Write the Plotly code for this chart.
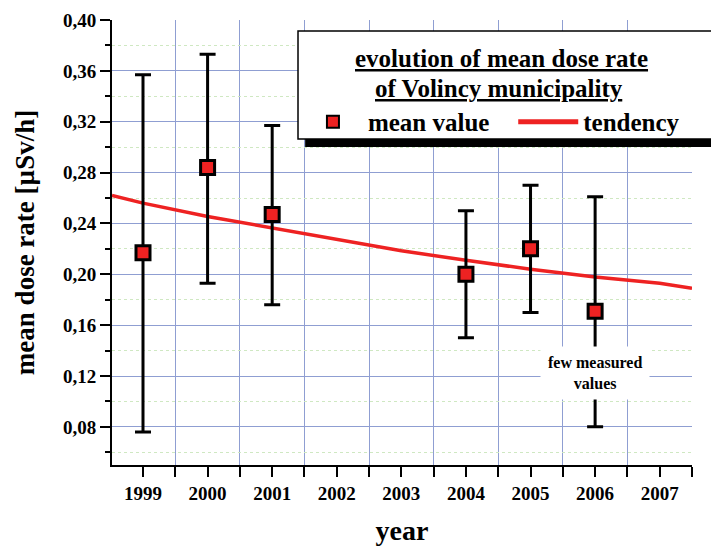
import plotly.graph_objects as go

# ---------------- data ----------------
years = [1999, 2000, 2001, 2004, 2005, 2006]
mean_rate = [0.217, 0.284, 0.247, 0.200, 0.220, 0.171]
upper_rate = [0.357, 0.373, 0.317, 0.250, 0.270, 0.261]
lower_rate = [0.076, 0.193, 0.176, 0.150, 0.170, 0.080]

trend_x = [1998.52, 1999, 2000, 2001, 2002, 2003, 2004, 2005, 2006, 2007, 2007.5]
trend_y = [0.262, 0.256, 0.2455, 0.2365, 0.2272, 0.2185, 0.2110, 0.2040, 0.1978, 0.1930, 0.1890]

x_tickvals = [1999, 2000, 2001, 2002, 2003, 2004, 2005, 2006, 2007]
x_ticktext = ["1999", "2000", "2001", "2002", "2003", "2004", "2005", "2006", "2007"]
x_minor = [1999.5, 2000.5, 2001.5, 2002.5, 2003.5, 2004.5, 2005.5, 2006.5, 2007.5]

y_tickvals = [0.08, 0.12, 0.16, 0.20, 0.24, 0.28, 0.32, 0.36, 0.40]
y_ticktext = ["0,08", "0,12", "0,16", "0,20", "0,24", "0,28", "0,32", "0,36", "0,40"]
y_minor = [0.06, 0.10, 0.14, 0.18, 0.22, 0.26, 0.30, 0.34, 0.38]

# ---------------- style ----------------
FONT = "Liberation Serif, Times New Roman, serif"
RED = "#ee2222"
GRID = "#8f9ed2"
MINOR_GRID = "#cfe8c2"
NBSP = "\u00a0"

err_plus = [u - m for u, m in zip(upper_rate, mean_rate)]
err_minus = [m - l for m, l in zip(mean_rate, lower_rate)]

fig = go.Figure()

fig.add_trace(go.Scatter(
    x=trend_x, y=trend_y, mode="lines", name="tendency",
    line=dict(color=RED, width=3.5),
))

fig.add_trace(go.Scatter(
    x=years, y=mean_rate, mode="markers", name="mean value" + NBSP * 3,
    marker=dict(symbol="square", size=14, color=RED,
                line=dict(color="black", width=3)),
    error_y=dict(type="data", symmetric=False, array=err_plus,
                 arrayminus=err_minus, color="black", thickness=3, width=8),
))

fig.update_layout(
    width=711, height=547,
    margin=dict(l=112, r=19, t=20, b=82),
    paper_bgcolor="white", plot_bgcolor="white",
    font=dict(family=FONT, size=19, color="black", weight="bold"),
    showlegend=True,
    legend=dict(
        orientation="h", traceorder="reversed",
        x=0.3206, xanchor="left", y=0.771, yanchor="middle",
        bgcolor="rgba(0,0,0,0)", borderwidth=0,
        font=dict(family=FONT, size=25, color="black", weight="bold"),
        itemwidth=60, itemsizing="constant",
    ),
    xaxis=dict(
        range=[1998.52, 2007.5],
        tickmode="array", tickvals=x_tickvals, ticktext=x_ticktext,
        showgrid=False, zeroline=False,
        ticks="outside", ticklen=10, tickwidth=2, tickcolor="black",
        showline=True, linecolor="black", linewidth=2,
        tickfont=dict(family=FONT, size=19, weight="bold"),
        minor=dict(tickvals=x_minor, ticks="outside", ticklen=10, tickwidth=2,
                   tickcolor="black", showgrid=True, gridcolor=GRID, gridwidth=1),
        title=dict(text="year", font=dict(family=FONT, size=28, weight="bold"),
                   standoff=18),
        automargin=False,
    ),
    yaxis=dict(
        range=[0.05, 0.40],
        tickmode="array", tickvals=y_tickvals, ticktext=y_ticktext,
        showgrid=True, gridcolor=GRID, gridwidth=1, zeroline=False,
        ticks="outside", ticklen=10, tickwidth=2, tickcolor="black",
        showline=True, linecolor="black", linewidth=2,
        tickfont=dict(family=FONT, size=19, weight="bold"),
        minor=dict(tickvals=y_minor, ticks="outside", ticklen=5, tickwidth=2,
                   tickcolor="black", showgrid=True, gridcolor=MINOR_GRID,
                   gridwidth=1, griddash="dot"),
        title=dict(text="mean dose rate [µSv/h]",
                   font=dict(family=FONT, size=27, weight="bold"), standoff=21),
        automargin=False,
    ),
    shapes=[
        dict(type="rect", xref="paper", yref="paper", x0=0.333, x1=1.08,
             y0=0.7146, y1=0.95, fillcolor="black", line=dict(width=0),
             layer="above"),
        dict(type="rect", xref="paper", yref="paper", x0=0.3207, x1=1.07,
             y0=0.7326, y1=0.9753, fillcolor="white",
             line=dict(color="black", width=1.5), layer="above"),
    ],
    annotations=[
        dict(text="evolution of mean dose rate", xref="paper", yref="paper",
             x=0.6707, y=0.9146, showarrow=False, xanchor="center", yanchor="middle",
             font=dict(family=FONT, size=25, weight="bold", lineposition="under")),
        dict(text="of Volincy municipality", xref="paper", yref="paper",
             x=0.667, y=0.847, showarrow=False, xanchor="center", yanchor="middle",
             font=dict(family=FONT, size=25, weight="bold", lineposition="under")),
        dict(text="few measured<br>values", xref="x", yref="y",
             x=2006, y=0.1226, showarrow=False, xanchor="center", yanchor="middle",
             bgcolor="white", borderpad=7,
             font=dict(family=FONT, size=16, weight="bold")),
    ],
)

fig.write_html("out.html", config={"displayModeBar": False},
               post_script="document.body.style.margin='0px';")
